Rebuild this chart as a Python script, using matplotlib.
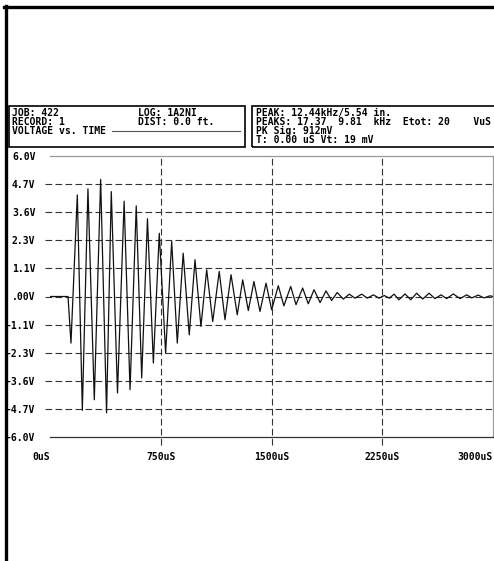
import matplotlib.pyplot as plt
from matplotlib.patches import Rectangle
from matplotlib.lines import Line2D

W, H = 494, 561
MONO = 'DejaVu Sans Mono'
FS = 7.0

# waveform: flat lead-in, then the extrema of the ringing signal
time_us = [0, 122, 142, 185, 219, 257, 300, 343, 383, 415, 457, 502, 542, 584,
           621, 660, 700, 740, 783, 824, 862, 902, 943, 982, 1022, 1061, 1102,
           1146, 1185, 1226, 1268, 1305, 1343, 1381, 1422, 1463, 1501, 1546,
           1584, 1630, 1666, 1711, 1749, 1788, 1829, 1869, 1907, 1945, 1986,
           2027, 2065, 2111, 2149, 2190, 2228, 2264, 2298, 2330, 2363, 2404,
           2443, 2483, 2524, 2567, 2607, 2648, 2686, 2731, 2777, 2822, 2856,
           2900, 2939, 2980, 3000]
volts = [0, 0, -1.99, 4.34, -4.86, 4.60, -4.41, 5.00, -4.97, 4.48, -4.12, 4.07,
         -3.98, 3.87, -3.48, 3.32, -2.84, 2.70, -2.42, 2.35, -1.99, 1.85, -1.64,
         1.57, -1.28, 1.14, -1.07, 1.07, -0.99, 0.93, -0.78, 0.71, -0.60, 0.64,
         -0.64, 0.57, -0.57, 0.46, -0.40, 0.43, -0.35, 0.36, -0.31, 0.29, -0.26,
         0.24, -0.17, 0.17, -0.11, 0.10, -0.07, 0.10, -0.07, 0.07, -0.07, 0.04,
         -0.07, 0.10, -0.14, 0.11, -0.14, 0.14, -0.11, 0.14, -0.09, 0.07, -0.09,
         0.11, -0.09, 0.07, -0.06, 0.06, -0.06, 0.03, 0.0]

y_ticks = [-6.0, -4.8, -3.6, -2.4, -1.2, 0.0, 1.2, 2.4, 3.6, 4.8, 6.0]
y_labels = ['-6.0V', '-4.7V', '-3.6V', '-2.3V', '-1.1V', '.00V',
            '1.1V', '2.3V', '3.6V', '4.7V', '6.0V']
x_ticks = [0, 750, 1500, 2250, 3000]
x_labels = ['0uS', '750uS', '1500uS', '2250uS', '3000uS']

left_col1 = ['JOB: 422', 'RECORD: 1', 'VOLTAGE vs. TIME']
left_col2 = ['LOG: 1A2NI', 'DIST: 0.0 ft.']
right_lines = ['PEAK: 12.44kHz/5.54 in.',
               'PEAKS: 17.37  9.81  kHz  Etot: 20    VuS',
               'PK Sig: 912mV',
               'T: 0.00 uS Vt: 19 mV']


def fx(px):
    return px / W


def fy(py):
    return 1 - py / H


fig = plt.figure(figsize=(W / 100, H / 100), dpi=100)
fig.patch.set_facecolor('white')

# outer frame: heavy top and left rules
fig.add_artist(Line2D([fx(4), fx(494)], [fy(7), fy(7)], color='black', lw=2.4))
fig.add_artist(Line2D([fx(5.5), fx(5.5)], [fy(6), fy(561)], color='black', lw=2.4))

# header boxes
fig.add_artist(Rectangle((fx(9), fy(147)), fx(245) - fx(9), fy(106) - fy(147),
                         transform=fig.transFigure, fill=False, ec='black', lw=1.2))
fig.add_artist(Rectangle((fx(252), fy(147)), fx(500) - fx(252), fy(106) - fy(147),
                         transform=fig.transFigure, fill=False, ec='black', lw=1.2))

txt = dict(family=MONO, fontsize=FS, fontweight='bold', va='center', ha='left')
row_y = [113, 122, 131, 140]
for i, s in enumerate(left_col1):
    fig.text(fx(12), fy(row_y[i]), s, **txt)
for i, s in enumerate(left_col2):
    fig.text(fx(138), fy(row_y[i]), s, **txt)
for i, s in enumerate(right_lines):
    fig.text(fx(256), fy(row_y[i]), s, **txt)
fig.add_artist(Line2D([fx(112), fx(240)], [fy(131), fy(131)], color='#555', lw=0.8))

# signal plot
ax = fig.add_axes([fx(50), fy(437), fx(493) - fx(50), fy(156) - fy(437)])
ax.set_xlim(0, 3000)
ax.set_ylim(-6, 6)

dash = (0, (6, 3))
ax.hlines(y_ticks[1:-1], -35, 3000, colors='#333', lw=0.8, linestyles=dash,
          clip_on=False, zorder=1)
ax.vlines(x_ticks[1:-1], -6.35, 6, colors='#333', lw=0.8, linestyles=dash,
          clip_on=False, zorder=1)

ax.plot(time_us, volts, color='#111', lw=0.9, zorder=3)

for side in ['top', 'right']:
    ax.spines[side].set_color('#999')
    ax.spines[side].set_linewidth(0.9)
ax.spines['bottom'].set_color('#333')
ax.spines['bottom'].set_linewidth(0.9)
ax.spines['left'].set_visible(False)

ax.set_yticks(y_ticks)
ax.set_yticklabels(y_labels, family=MONO, fontsize=FS, fontweight='bold')
ax.set_xticks(x_ticks)
ax.set_xticklabels(x_labels, family=MONO, fontsize=FS, fontweight='bold')
ax.tick_params(axis='y', length=0, pad=10.5)
ax.tick_params(axis='x', length=0, pad=11)
ax.get_xticklabels()[0].set_ha('right')
ax.get_xticklabels()[-1].set_ha('right')

fig.savefig('out.png', dpi=100)
